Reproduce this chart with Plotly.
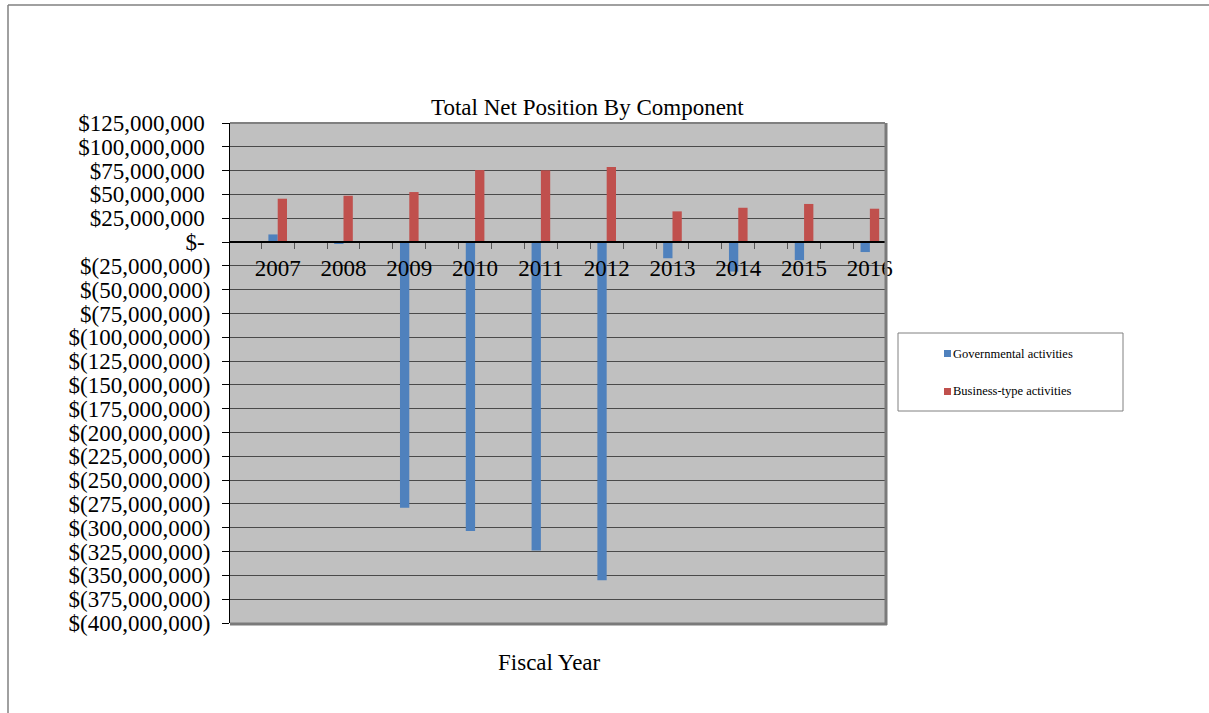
import plotly.graph_objects as go

# Fiscal years and net position by component (US dollars)
years = [2007, 2008, 2009, 2010, 2011, 2012, 2013, 2014, 2015, 2016]
governmental = [8.0e6, -1.2e6, -279.0e6, -303.5e6, -324.0e6, -355.0e6,
                -17.0e6, -31.0e6, -19.0e6, -10.5e6]
business_type = [45.5e6, 48.6e6, 52.5e6, 75.6e6, 75.3e6, 78.8e6,
                 32.2e6, 36.0e6, 40.0e6, 35.0e6]

series_names = ["Governmental activities", "Business-type activities"]
series_colors = ["#4F81BD", "#C0504D"]

# Accounting-style y tick labels
y_ticks = list(range(-400_000_000, 125_000_001, 25_000_000))


def money(v):
    if v == 0:
        return "$-\u00a0"
    if v < 0:
        return "$({:,})".format(-v)
    return "${:,}\u00a0".format(v)


y_labels = [money(v) for v in y_ticks]

W, H = 1209, 713
L, R, T, B = 230, 885, 123, 623
FONT = "Liberation Serif, Times New Roman, serif"


def fx(px):
    return (px - L) / (R - L)


def fy(py):
    return (B - py) / (B - T)


fig = go.Figure()
for name, vals, col in zip(series_names, [governmental, business_type], series_colors):
    fig.add_trace(go.Bar(x=years, y=vals, name=name, marker_color=col,
                         marker_line_width=0, showlegend=False))

fig.update_layout(
    width=W, height=H,
    margin=dict(l=L, r=W - R, t=T, b=H - B, pad=0),
    paper_bgcolor="white",
    plot_bgcolor="#C0C0C0",
    barmode="group",
    bargap=0.717,
    bargroupgap=0,
    font=dict(family=FONT, color="black"),
)

zero_pos = 400 / 525
fig.update_xaxes(
    range=[2006.275, 2016.23],
    anchor="free", position=zero_pos,
    tickmode="linear", tick0=2007, dtick=1, tickformat="d",
    ticks="outside", ticklen=6, tickcolor="rgba(0,0,0,0)",
    tickfont=dict(size=23, family=FONT),
    showline=True, linecolor="black", linewidth=1.5,
    showgrid=False, zeroline=False,
    minor=dict(ticks="outside", tick0=2007.25, dtick=0.5, ticklen=6,
               tickcolor="#555555", tickwidth=1, showgrid=False),
)
fig.update_yaxes(
    range=[-400_000_000, 125_000_000],
    tickmode="array", tickvals=y_ticks, ticktext=y_labels,
    ticks="outside", ticklen=7, tickcolor="black", tickwidth=1,
    ticklabelstandoff=7,
    tickfont=dict(size=23, family=FONT),
    showline=True, linecolor="black", linewidth=1,
    showgrid=True, gridcolor="#4a4a4a", gridwidth=1,
    zeroline=False,
)

shapes = [
    # plot area frame with shadowed right/bottom edges
    dict(type="line", xref="paper", yref="paper", x0=0, x1=1, y0=1, y1=1,
         line=dict(color="#808080", width=2)),
    dict(type="line", xref="paper", yref="paper", x0=fx(R + 1), x1=fx(R + 1),
         y0=fy(B + 2), y1=1, line=dict(color="#7a7a7a", width=3)),
    dict(type="line", xref="paper", yref="paper", x0=0, x1=fx(R + 2), y0=fy(B + 1), y1=fy(B + 1),
         line=dict(color="#7a7a7a", width=3)),
    # outer chart frame
    dict(type="line", xref="paper", yref="paper", x0=fx(8), x1=fx(1215), y0=fy(5), y1=fy(5),
         line=dict(color="#808080", width=1.5)),
    dict(type="line", xref="paper", yref="paper", x0=fx(8), x1=fx(8), y0=fy(5), y1=fy(720),
         line=dict(color="#808080", width=1.5)),
    # legend box
    dict(type="rect", xref="paper", yref="paper", x0=fx(898), x1=fx(1123), y0=fy(411), y1=fy(333),
         line=dict(color="#808080", width=1), fillcolor="white"),
]

annotations = [
    dict(text="Total Net Position By Component", xref="paper", yref="paper",
         x=fx(587.5), y=fy(108), xanchor="center", yanchor="middle", showarrow=False,
         font=dict(size=23, family=FONT)),
    dict(text="Fiscal Year", xref="paper", yref="paper",
         x=fx(549.5), y=fy(662), xanchor="center", yanchor="middle", showarrow=False,
         font=dict(size=23, family=FONT)),
]

legend_rows = [353.5, 391.5]
for name, col, cy in zip(series_names, series_colors, legend_rows):
    shapes.append(dict(type="rect", xref="paper", yref="paper",
                       x0=fx(944), x1=fx(951), y0=fy(cy + 3.5), y1=fy(cy - 3.5),
                       line=dict(width=0), fillcolor=col))
    annotations.append(dict(text=name, xref="paper", yref="paper",
                            x=fx(951), y=fy(cy), xanchor="left", yanchor="middle",
                            showarrow=False, font=dict(size=12.5, family=FONT)))

fig.update_layout(shapes=shapes, annotations=annotations)

fig.write_html("out.html")
